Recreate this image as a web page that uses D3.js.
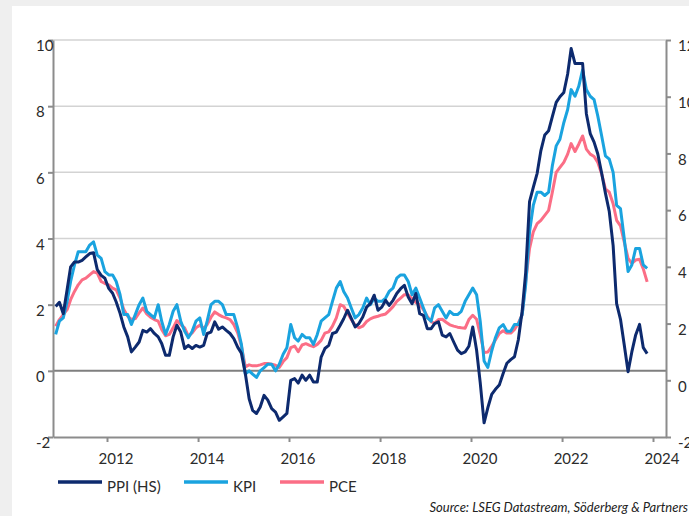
<!DOCTYPE html>
<meta charset="utf-8">
<style>

body {
  margin: 0;
  background: #efefef;
}

svg {
  display: block;
}

.tick text, .legend text {
  font-family: Lato, "Open Sans", sans-serif;
  font-size: 15px;
  fill: #2b2b2b;
}

.grid {
  stroke: #d3d3d3;
  stroke-width: 1.5px;
}

.zero {
  stroke: #7f7f7f;
  stroke-width: 2px;
}

.axis path, .axis line {
  stroke: #8c8c8c;
  stroke-width: 2px;
}

.series {
  fill: none;
  stroke-width: 3px;
  stroke-linejoin: round;
}

.source {
  font-family: Lato, "Open Sans", sans-serif;
  font-style: italic;
  font-size: 13px;
  fill: #222;
}

</style>
<body>
<script src="https://d3js.org/d3.v7.min.js"></script>
<script>

var width = 689,
    height = 516;

// monthly, Nov 2010 - Nov 2023
var firstMonth = new Date(2010, 10, 15);

var kpi = [
  1.1, 1.5,
  1.6, 2.1, 2.7, 3.2, 3.6, 3.6, 3.6, 3.8, 3.9, 3.5, 3.4, 3.0,
  2.9, 2.9, 2.7, 2.3, 1.7, 1.7, 1.4, 1.7, 2.0, 2.2, 1.8, 1.7,
  1.6, 2.0, 1.5, 1.1, 1.4, 1.8, 2.0, 1.5, 1.2, 1.0, 1.2, 1.5,
  1.6, 1.1, 1.5, 2.0, 2.1, 2.1, 2.0, 1.7, 1.7, 1.7, 1.3, 0.8,
  -0.1, 0.0, -0.1, -0.2, 0.0, 0.1, 0.2, 0.2, 0.0, 0.2, 0.5, 0.7,
  1.4, 1.0, 0.9, 1.1, 1.0, 1.0, 0.8, 1.1, 1.5, 1.6, 1.7, 2.1,
  2.5, 2.7, 2.4, 2.2, 1.9, 1.6, 1.7, 1.9, 2.2, 2.0, 2.2, 2.1,
  2.1, 2.2, 2.4, 2.5, 2.8, 2.9, 2.9, 2.7, 2.3, 2.5, 2.2, 1.9,
  1.6, 1.5, 1.9, 2.0, 1.8, 1.6, 1.8, 1.7, 1.7, 1.8, 2.1, 2.3,
  2.5, 2.3, 1.5, 0.3, 0.1, 0.6, 1.0, 1.3, 1.4, 1.2, 1.2, 1.4,
  1.4, 1.7, 2.6, 4.2, 5.0, 5.4, 5.4, 5.3, 5.4, 6.2, 6.8, 7.0,
  7.5, 7.9, 8.5, 8.3, 8.6, 9.1, 8.5, 8.3, 8.2, 7.7, 7.1, 6.5,
  6.4, 6.0, 5.0, 4.9, 4.0, 3.0, 3.2, 3.7, 3.7, 3.2, 3.1
];

var pce = [
  1.35, 1.55,
  1.7, 1.85, 2.15, 2.4, 2.6, 2.75, 2.8, 2.9, 3.0, 2.95, 2.7, 2.64,
  2.6, 2.5, 2.45, 2.2, 1.85, 1.65, 1.55, 1.58, 1.75, 1.9, 1.72, 1.62,
  1.55, 1.5, 1.25, 1.06, 1.1, 1.3, 1.52, 1.4, 1.3, 1.05, 1.15, 1.3,
  1.38, 1.28, 1.4, 1.62, 1.78, 1.7, 1.64, 1.6, 1.55, 1.4, 1.15, 0.75,
  0.12, 0.18, 0.15, 0.15, 0.18, 0.22, 0.22, 0.2, 0.17, 0.1, 0.28, 0.4,
  0.7, 0.75, 0.58, 0.78, 0.82, 0.77, 0.73, 0.8, 0.92, 1.14, 1.18, 1.35,
  1.6, 2.0, 1.95, 1.75, 1.55, 1.38, 1.3, 1.35, 1.49, 1.57, 1.62, 1.65,
  1.69, 1.72, 1.82, 1.94, 2.1, 2.2, 2.3, 2.3, 2.18, 2.07, 2.0, 1.85,
  1.65, 1.48, 1.44, 1.55, 1.56, 1.47, 1.39, 1.35, 1.32, 1.3, 1.29, 1.55,
  1.68, 1.56, 1.1, 0.55, 0.57, 0.74, 0.93, 1.13, 1.21, 1.14, 1.14, 1.25,
  1.44, 1.7, 2.7, 3.7, 4.2, 4.45, 4.55, 4.7, 4.85, 5.4, 6.0, 6.15,
  6.3, 6.55, 6.87, 6.63, 6.85, 7.1, 6.7, 6.55, 6.48, 6.3, 5.95, 5.5,
  5.4, 5.05, 4.55, 4.38, 3.9, 3.4, 3.25, 3.35, 3.37, 3.08, 2.69
];

// PPI on the right-hand scale (HS)
var ppi = [
  2.6, 2.75,
  2.35, 3.2, 4.0, 4.17, 4.17, 4.23, 4.35, 4.47, 4.5, 3.9, 3.7, 3.6,
  3.24, 3.07, 2.76, 2.36, 1.88, 1.53, 1.0, 1.17, 1.35, 1.76, 1.7, 1.82,
  1.65, 1.53, 1.3, 0.88, 0.88, 1.53, 1.94, 1.7, 1.12, 1.23, 1.12, 1.23,
  1.17, 1.23, 1.65, 1.7, 2.06, 1.8, 1.88, 1.76, 1.65, 1.47, 1.17, 0.95,
  0.25, -0.65, -1.06, -1.17, -0.94, -0.53, -0.7, -1.0, -1.12, -1.41, -1.29, -1.17,
  0.0, 0.06, -0.1, 0.18, 0.0, 0.18, -0.06, -0.06, 0.82, 1.12, 1.23, 1.65,
  1.7, 1.94, 2.17, 2.47, 2.18, 1.88, 2.0, 2.23, 2.58, 2.7, 3.0, 2.47,
  2.58, 2.82, 2.64, 2.82, 3.06, 3.23, 3.35, 2.94, 2.7, 3.06, 2.35, 2.29,
  1.82, 1.82, 2.0, 2.06, 1.59, 1.53, 1.65, 1.35, 1.06, 0.94, 1.0, 1.2,
  1.88, 1.06, -0.08, -1.5, -0.97, -0.5, -0.32, -0.17, 0.24, 0.6, 0.73, 0.83,
  1.43, 2.45, 3.8, 6.3, 6.8, 7.3, 8.1, 8.65, 8.8, 9.3, 9.8, 10.0,
  10.15, 10.8, 11.7, 11.17, 11.17, 11.17, 9.4, 8.7, 8.4, 7.98, 7.3, 6.6,
  5.95, 4.75, 2.7, 2.15, 1.25, 0.3, 1.0, 1.6, 1.97, 1.15, 0.94
];

var leftTicks = [-2, 0, 2, 4, 6, 8, 10];
var rightTicks = [-2, 0, 2, 4, 6, 8, 10, 12];
var yearTicks = [2012, 2014, 2016, 2018, 2020, 2022, 2024];

var seriesList = [
  {name: "PPI (HS)", values: ppi, axis: "right", color: "#0d2a6e"},
  {name: "KPI", values: kpi, axis: "left", color: "#1aa3df"},
  {name: "PCE", values: pce, axis: "left", color: "#fb6e86"}
];

var margin = {top: 40, right: 23, bottom: 79, left: 53};

// year ticks sit 45.5px apart, 2012 at x=107
var xYear = d3.scaleTime()
    .domain([new Date(2012, 0, 1), new Date(2024, 0, 1)])
    .range([107, 653]);

var x = d3.scaleTime()
    .domain([xYear.invert(margin.left), xYear.invert(width - margin.right)])
    .range([margin.left, width - margin.right]);

var yL = d3.scaleLinear()
    .domain([-2, 10])
    .range([height - margin.bottom, margin.top]);

var yR = d3.scaleLinear()
    .domain([-2, 12])
    .range([height - margin.bottom, margin.top]);

var svg = d3.select("body").append("svg")
    .attr("width", width)
    .attr("height", height);

// white card
svg.append("rect")
    .attr("x", 12)
    .attr("y", 6)
    .attr("width", width - 12)
    .attr("height", height - 6)
    .attr("fill", "#fff");

// gridlines from left scale
svg.append("g").selectAll("line")
    .data(leftTicks.filter(function(d) { return d > -2; }))
  .enter().append("line")
    .attr("class", function(d) { return d === 0 ? "zero" : "grid"; })
    .attr("x1", margin.left)
    .attr("x2", width - margin.right)
    .attr("y1", function(d) { return yL(d); })
    .attr("y2", function(d) { return yL(d); });

var fmt = function(d) { return String(d); };

var leftAxis = svg.append("g")
    .attr("class", "axis")
    .attr("transform", "translate(" + margin.left + ",0)")
    .call(d3.axisLeft(yL).tickValues(leftTicks).tickSize(5).tickSizeOuter(0).tickFormat(fmt));
leftAxis.selectAll(".tick text")
    .attr("x", -17)
    .attr("dy", "0.72em")
    .attr("text-anchor", "start");

// right labels run past the edge, as in the original
var rightAxis = svg.append("g")
    .attr("class", "axis")
    .attr("transform", "translate(" + (width - margin.right) + ",0)")
    .call(d3.axisRight(yR).tickValues(rightTicks).tickSize(5).tickSizeOuter(0).tickFormat(fmt));
rightAxis.selectAll(".tick text")
    .attr("x", 12)
    .attr("dy", "0.72em");

var bottomAxis = svg.append("g")
    .attr("class", "axis")
    .attr("transform", "translate(0," + (height - margin.bottom) + ")")
    .call(d3.axisBottom(x)
      .tickValues(yearTicks.map(function(y) { return new Date(y, 0, 1); }))
      .tickSize(5).tickSizeOuter(0)
      .tickFormat(d3.timeFormat("%Y")));
bottomAxis.selectAll(".tick text")
    .attr("y", 16)
    .attr("dx", 8.5);

// lines, PCE under KPI under PPI
var drawOrder = [seriesList[2], seriesList[1], seriesList[0]];

drawOrder.forEach(function(s) {
  var y = s.axis === "right" ? yR : yL;
  var line = d3.line()
      .x(function(d, i) { return x(d3.timeMonth.offset(firstMonth, i)); })
      .y(function(d) { return y(d); });
  svg.append("path")
      .datum(s.values)
      .attr("class", "series")
      .attr("stroke", s.color)
      .attr("d", line);
});

// legend
var legendX = [58, 184, 280];
var legend = svg.append("g")
    .attr("class", "legend")
    .attr("transform", "translate(0,482)");

var item = legend.selectAll("g")
    .data(seriesList)
  .enter().append("g")
    .attr("transform", function(d, i) { return "translate(" + legendX[i] + ",0)"; });

item.append("line")
    .attr("x1", 0)
    .attr("x2", 44)
    .attr("stroke", function(d) { return d.color; })
    .attr("stroke-width", 3.5);

item.append("text")
    .attr("x", 49)
    .attr("y", 5)
    .attr("dy", "0.35em")
    .text(function(d) { return d.name; });

svg.append("text")
    .attr("class", "source")
    .attr("x", width - 1)
    .attr("y", 512)
    .attr("text-anchor", "end")
    .text("Source: LSEG Datastream, Söderberg & Partners");

</script>
